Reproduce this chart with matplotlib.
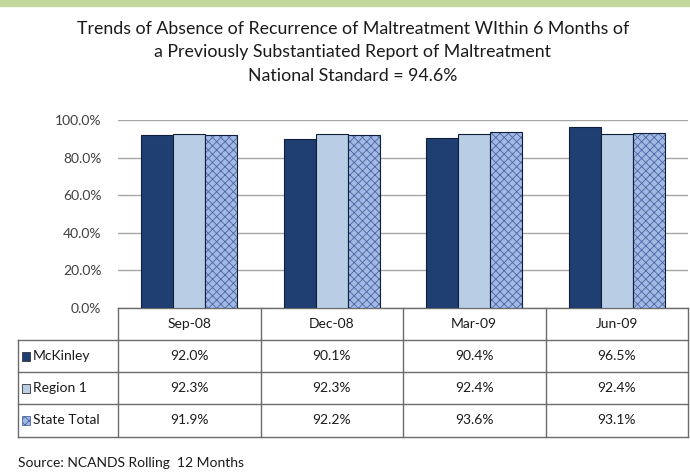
import matplotlib
matplotlib.use("Agg")
import matplotlib.pyplot as plt
import numpy as np
from matplotlib.patches import Rectangle

plt.rcParams['font.family'] = ['Lato', 'DejaVu Sans']
plt.rcParams['hatch.linewidth'] = 0.6

categories = ["Sep-08", "Dec-08", "Mar-09", "Jun-09"]
series_names = ["McKinley", "Region 1", "State Total"]
mckinley = [92.0, 90.1, 90.4, 96.5]
region1 = [92.3, 92.3, 92.4, 92.4]
state_total = [91.9, 92.2, 93.6, 93.1]
yticks = [0, 20, 40, 60, 80, 100]
ytick_labels = ["0.0%", "20.0%", "40.0%", "60.0%", "80.0%", "100.0%"]
title_lines = ["Trends of Absence of Recurrence of Maltreatment WIthin 6 Months of",
               "a Previously Substantiated Report of Maltreatment",
               "National Standard = 94.6%"]
source = "Source: NCANDS Rolling  12 Months"

W, H = 690, 472
fig = plt.figure(figsize=(W / 100, H / 100), dpi=100)
fig.patch.set_facecolor("white")

# overlay axes in pixel coordinates
ov = fig.add_axes([0, 0, 1, 1])
ov.set_xlim(0, W)
ov.set_ylim(H, 0)
ov.axis("off")
ov.add_patch(Rectangle((0, 0), W, 6, color="#c3d69b", zorder=0))

# main chart
L, R, T, B = 118, 688, 120, 308
ax = fig.add_axes([L / W, 1 - B / H, (R - L) / W, (B - T) / H])
ax.set_facecolor("none")
x = np.arange(len(categories))
bw = 0.225
cols = ["#1f3f73", "#b9cde5", "#a3b9e4"]
ax.bar(x - bw, mckinley, bw, color=cols[0], edgecolor="#0f1f3a", linewidth=0.8, zorder=3)
ax.bar(x, region1, bw, color=cols[1], edgecolor="#0f1f3a", linewidth=0.8, zorder=3)
ax.bar(x + bw, state_total, bw, color=cols[2], edgecolor="#4a67a3", hatch="xxxx", linewidth=0, zorder=3)
ax.bar(x + bw, state_total, bw, fill=False, edgecolor="#0f1f3a", linewidth=0.8, zorder=4)
ax.set_xlim(-0.5, len(categories) - 0.5)
ax.set_ylim(0, 100)
ax.set_yticks(yticks)
ax.set_yticklabels(ytick_labels, fontsize=10, color="#404040")
ax.tick_params(axis="y", length=0, pad=12)
ax.set_xticks([])
ax.grid(axis="y", color="#a6a6a6", linewidth=1.0, zorder=0)
for s in ax.spines.values():
    s.set_visible(False)

# title
for i, t in enumerate(title_lines):
    ov.text(W / 2 + 8, 29 + i * 23.5, t, ha="center", va="center", fontsize=12.8, color="#1a1a1a")

# data table
lc = "#6b6b6b"
colx = [L + (R - L) * i / len(categories) for i in range(len(categories) + 1)]
rows_y = [308, 340, 372, 404, 437]
ov.plot([L, R], [rows_y[0], rows_y[0]], color=lc, lw=1)
for yy in rows_y[1:]:
    ov.plot([18, R], [yy, yy], color=lc, lw=1)
for xx in colx:
    ov.plot([xx, xx], [rows_y[0], rows_y[-1]], color=lc, lw=1)
ov.plot([18, 18], [rows_y[1], rows_y[-1]], color=lc, lw=1)

for j, c in enumerate(categories):
    ov.text((colx[j] + colx[j + 1]) / 2, (rows_y[0] + rows_y[1]) / 2, c,
            ha="center", va="center", fontsize=10, color="#1a1a1a")

data = [mckinley, region1, state_total]
hatches = [None, None, "xxxx"]
for i, (name, vals) in enumerate(zip(series_names, data)):
    cy = (rows_y[i + 1] + rows_y[i + 2]) / 2
    ov.add_patch(Rectangle((22, cy - 4.5), 8, 9, facecolor=cols[i],
                           edgecolor="#4a67a3" if hatches[i] else "#333333",
                           hatch=hatches[i], lw=0.6))
    ov.text(33, cy, name, ha="left", va="center", fontsize=10, color="#1a1a1a")
    for j, v in enumerate(vals):
        ov.text((colx[j] + colx[j + 1]) / 2, cy, f"{v:.1f}%",
                ha="center", va="center", fontsize=10, color="#1a1a1a")

ov.text(18, 463, source, ha="left", va="center", fontsize=10, color="#1a1a1a")

fig.savefig("out.png", dpi=100)
